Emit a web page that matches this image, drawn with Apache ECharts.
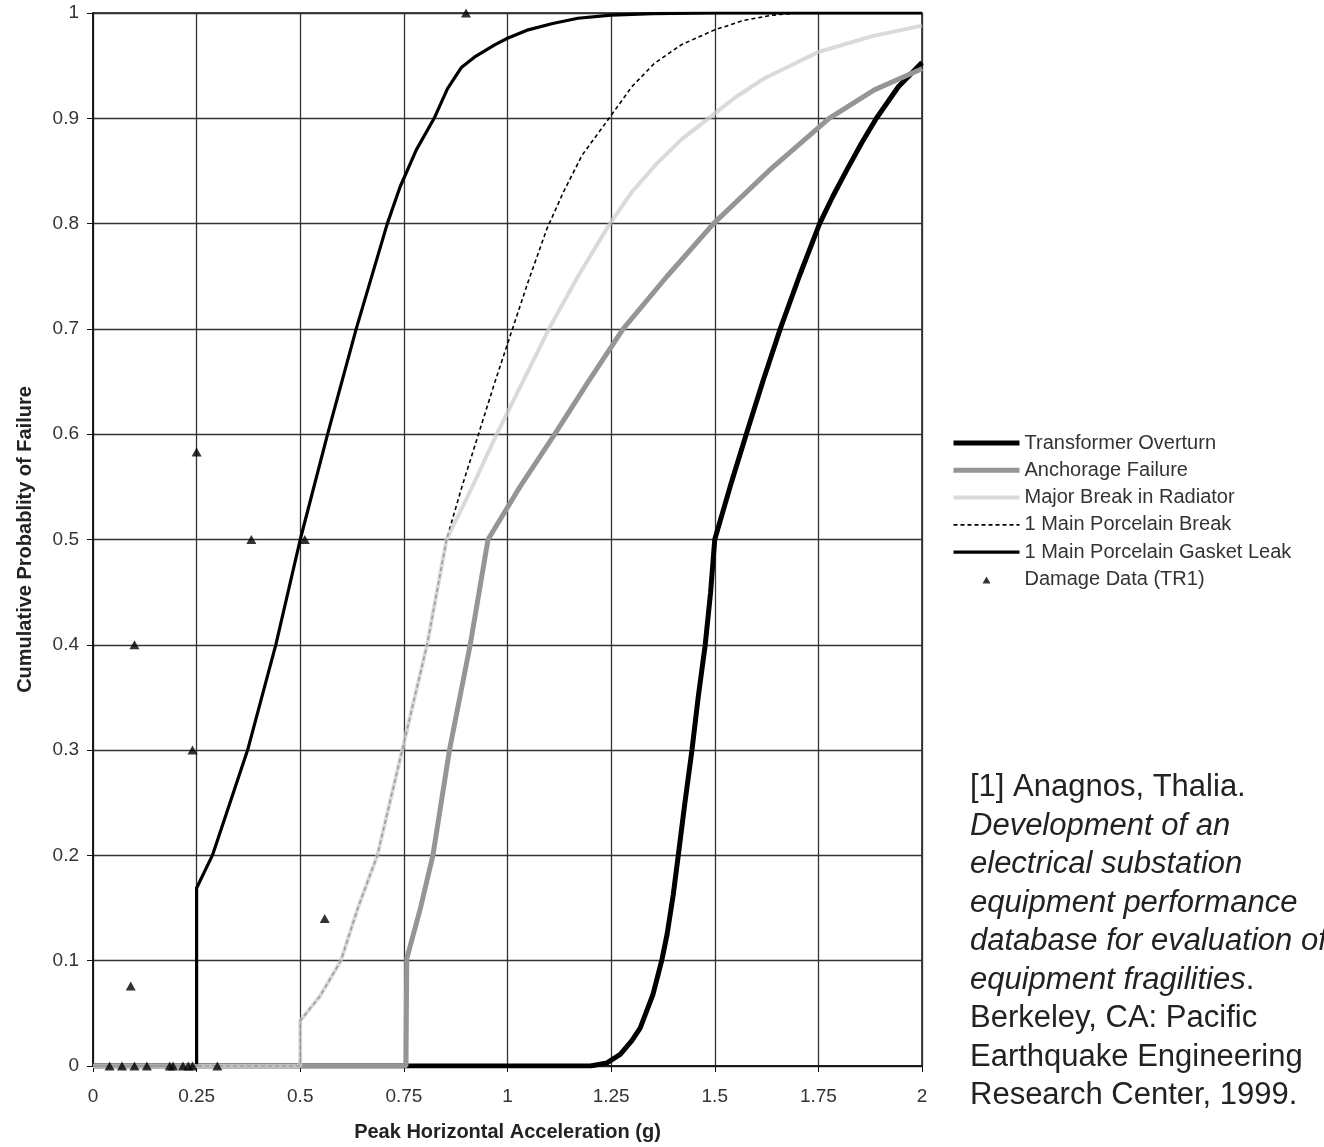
<!DOCTYPE html>
<html>
<head>
<meta charset="UTF-8">
<title>Transformer fragility curves</title>
<script src="https://cdn.jsdelivr.net/npm/echarts@6/dist/echarts.min.js"></script>
<style>
  html, body { margin: 0; padding: 0; background: #fff; }
  #main { width: 1324px; height: 1147px; }
</style>
</head>
<body>
<div id="main"></div>
<script>
// values, [PHA (g), probability]
var overturn = [[0, 0], [1.2, 0], [1.24, 0.003], [1.272, 0.011], [1.3, 0.024], [1.32, 0.036],
  [1.351, 0.068], [1.372, 0.1], [1.385, 0.125], [1.4, 0.163], [1.412, 0.2], [1.428, 0.25], [1.445, 0.3],
  [1.46, 0.35], [1.477, 0.4], [1.49, 0.45], [1.5, 0.5], [1.537, 0.55], [1.576, 0.6], [1.616, 0.65],
  [1.658, 0.7], [1.704, 0.75], [1.753, 0.8], [1.785, 0.826], [1.82, 0.852], [1.855, 0.877],
  [1.89, 0.9], [1.943, 0.93], [2, 0.953]];

var anchorage = [[0, 0], [0.755, 0], [0.757, 0.102], [0.79, 0.15], [0.82, 0.2], [0.86, 0.3],
  [0.91, 0.4], [0.953, 0.5], [1.03, 0.55], [1.114, 0.6], [1.195, 0.65], [1.279, 0.7], [1.385, 0.75],
  [1.497, 0.8], [1.63, 0.85], [1.776, 0.9], [1.885, 0.927], [2, 0.947]];

var radiator = [[0, 0], [0.5, 0], [0.5, 0.043], [0.547, 0.066], [0.598, 0.1], [0.639, 0.15],
  [0.686, 0.2], [0.746, 0.3], [0.806, 0.4], [0.853, 0.5], [0.915, 0.55], [0.974, 0.6], [1.037, 0.65],
  [1.1, 0.7], [1.17, 0.75], [1.247, 0.8], [1.3, 0.83], [1.36, 0.857], [1.42, 0.88], [1.485, 0.9],
  [1.55, 0.92], [1.62, 0.938], [1.75, 0.963], [1.88, 0.978], [2, 0.988]];

var porcelainBreak = [[0, 0], [0.5, 0], [0.5, 0.043], [0.547, 0.066], [0.598, 0.1], [0.639, 0.15],
  [0.686, 0.2], [0.746, 0.3], [0.806, 0.4], [0.853, 0.5], [0.89, 0.55], [0.93, 0.6], [0.97, 0.65],
  [1.012, 0.7], [1.05, 0.745], [1.095, 0.795], [1.135, 0.83], [1.18, 0.865], [1.245, 0.9], [1.3, 0.93],
  [1.354, 0.952], [1.42, 0.97], [1.5, 0.984], [1.57, 0.993], [1.64, 0.998], [1.7, 1]];

var gasketLeak = [[0, 0], [0.25, 0], [0.25, 0.169], [0.288, 0.2], [0.373, 0.3], [0.441, 0.4], [0.5, 0.5],
  [0.566, 0.6], [0.635, 0.7], [0.71, 0.8], [0.741, 0.835], [0.78, 0.87], [0.823, 0.9], [0.855, 0.928],
  [0.888, 0.948], [0.92, 0.958], [0.97, 0.97], [1.0, 0.976], [1.05, 0.984], [1.109, 0.99],
  [1.17, 0.995], [1.25, 0.998], [1.35, 0.9995], [1.5, 1], [2, 1]];

var damageTR1 = [[0.9, 1.0], [0.25, 0.583], [0.382, 0.5], [0.511, 0.5], [0.1, 0.4], [0.24, 0.3],
  [0.559, 0.14], [0.091, 0.076], [0.04, 0], [0.07, 0], [0.1, 0], [0.13, 0], [0.185, 0], [0.193, 0],
  [0.217, 0], [0.23, 0], [0.24, 0], [0.3, 0]];

var seriesNames = ['Transformer Overturn', 'Anchorage Failure', 'Major Break in Radiator',
  '1 Main Porcelain Break', '1 Main Porcelain Gasket Leak', 'Damage Data (TR1)'];

var refLines = [
  '{n|[1] Anagnos, Thalia.}',
  '{i|Development of an}',
  '{i|electrical substation}',
  '{i|equipment performance}',
  '{i|database for evaluation of}',
  '{i|equipment fragilities}{n|.}',
  '{n|Berkeley, CA: Pacific}',
  '{n|Earthquake Engineering}',
  '{n|Research Center, 1999.}'
];

var font = '"Liberation Sans", Arial, sans-serif';
var chart = echarts.init(document.getElementById('main'));

var styles = [
  { color: '#000', width: 5, type: 'solid' },
  { color: '#959595', width: 5, type: 'solid' },
  { color: 'rgba(205,205,205,0.75)', width: 4, type: 'solid' },
  { color: '#000', width: 1.6, type: [4, 3] },
  { color: '#000', width: 3.2, type: 'solid' }
];

function curve(i, data, z) {
  return {
    name: seriesNames[i], type: 'line', data: data, showSymbol: false, symbol: 'none',
    z: z || 2, silent: true,
    lineStyle: styles[i],
    itemStyle: { color: styles[i].color }
  };
}

// legend entries: plain line samples, and a small triangle for the damage data
var legendData = seriesNames.map(function (n, i) {
  if (i === 5) {
    return { name: n, icon: 'path://M0,0 L66,0 M0,14 L66,14 M29,11 L33,4 L37,11 Z' };
  }
  return { name: n, itemStyle: { opacity: 0 }, lineStyle: styles[i] };
});

var option = {
  animation: false,
  backgroundColor: '#fff',
  textStyle: { fontFamily: font },
  grid: { left: 93, top: 13, width: 829, height: 1055, show: true, borderColor: '#111', borderWidth: 1.5 },
  legend: {
    orient: 'vertical', left: 946, top: 428,
    itemWidth: 66, itemHeight: 14, itemGap: 7.3,
    textStyle: { fontSize: 20, color: '#333', lineHeight: 20, fontFamily: font },
    data: legendData
  },
  xAxis: {
    type: 'value', min: 0, max: 2, interval: 0.25,
    name: 'Peak Horizontal Acceleration (g)', nameLocation: 'middle', nameGap: 56,
    nameTextStyle: { fontSize: 20, fontWeight: 'bold', color: '#222' },
    axisLine: { show: true, lineStyle: { color: '#111', width: 1.5 } },
    axisTick: { show: true, length: 6, lineStyle: { color: '#111' } },
    axisLabel: { fontSize: 19, color: '#333', margin: 21 },
    splitLine: { show: true, lineStyle: { color: '#333', width: 1.3 } }
  },
  yAxis: {
    type: 'value', min: 0, max: 1, interval: 0.1,
    name: 'Cumulative Probablity of Failure', nameLocation: 'middle', nameGap: 58,
    nameTextStyle: { fontSize: 20, fontWeight: 'bold', color: '#222' },
    axisLine: { show: true, lineStyle: { color: '#111', width: 1.5 } },
    axisTick: { show: true, length: 6, lineStyle: { color: '#111' } },
    axisLabel: { fontSize: 19, color: '#333', margin: 14 },
    splitLine: { show: true, lineStyle: { color: '#333', width: 1.3 } }
  },
  series: [
    curve(0, overturn),
    curve(1, anchorage),
    curve(2, radiator, 3),
    curve(3, porcelainBreak),
    curve(4, gasketLeak),
    {
      name: seriesNames[5], type: 'scatter', data: damageTR1, symbol: 'triangle',
      symbolSize: [10, 9], clip: false, z: 5, silent: true,
      itemStyle: { color: '#000' }
    }
  ],
  graphic: [{
    type: 'text', left: 970, top: 772, silent: true,
    style: {
      text: refLines.join('\n'),
      fill: '#222',
      rich: {
        n: { fontSize: 31, fontFamily: font, lineHeight: 38.5, fill: '#222' },
        i: { fontSize: 31, fontFamily: font, fontStyle: 'italic', lineHeight: 38.5, fill: '#222' }
      }
    }
  }]
};

chart.setOption(option);
</script>
</body>
</html>
